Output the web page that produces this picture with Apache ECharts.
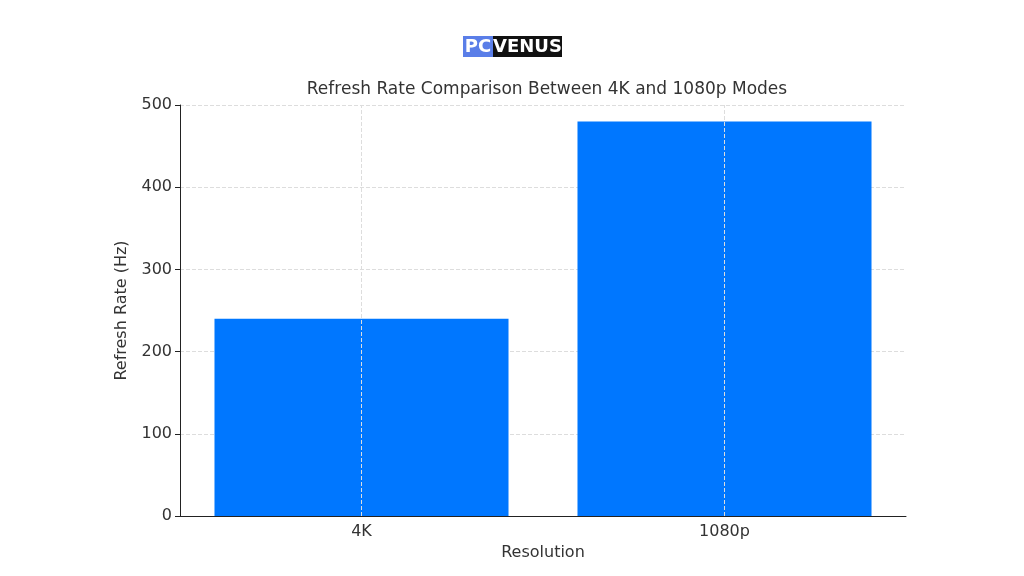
<!DOCTYPE html><html><head><meta charset="utf-8"><script src="https://cdn.jsdelivr.net/npm/echarts@6/dist/echarts.min.js"></script></head><body style="margin:0;background:#fff"><div id="c" style="width:1024px;height:576px"></div><script>
const categories=['4K','1080p'];
const values=[240,480];
const yTicks=[0,100,200,300,400,500];
const ch=echarts.init(document.getElementById('c'));
const F='DejaVu Sans';
ch.setOption({
animation:false,
title:{text:'Refresh Rate Comparison Between 4K and 1080p Modes',left:542,top:76,textAlign:'center',textStyle:{fontFamily:F,fontSize:17,fontWeight:'normal',color:'#333'}},
graphic:[
{type:'rect',shape:{x:463,y:36,width:30,height:21},style:{fill:'#5a7ee8'}},
{type:'rect',shape:{x:493,y:36,width:69,height:21},style:{fill:'#111'}},
{type:'text',x:478,y:47,style:{text:'PC',fill:'#fff',font:'bold 18px DejaVu Sans',textAlign:'center',textVerticalAlign:'middle'}},
{type:'text',x:527.5,y:47,style:{text:'VENUS',fill:'#fff',font:'bold 18px DejaVu Sans',textAlign:'center',textVerticalAlign:'middle'}}
],
grid:{left:180,right:118,top:105,bottom:60},
xAxis:{type:'category',data:categories,name:'Resolution',nameLocation:'middle',nameGap:28,nameTextStyle:{fontFamily:F,fontSize:16,color:'#333'},
axisLine:{lineStyle:{color:'#222'}},axisTick:{alignWithLabel:true,lineStyle:{color:'#222'}},axisLabel:{fontFamily:F,fontSize:16,color:'#333'},
splitLine:{show:false}},
yAxis:{type:'value',min:0,max:500,interval:100,name:'Refresh Rate (Hz)',nameLocation:'middle',nameGap:50,nameTextStyle:{fontFamily:F,fontSize:16,color:'#333'},
axisLine:{show:true,lineStyle:{color:'#222'}},axisTick:{show:true,lineStyle:{color:'#222'}},axisLabel:{fontFamily:F,fontSize:16,color:'#333',formatter:v=>yTicks.includes(v)?String(v):''},
splitLine:{lineStyle:{type:'dashed',color:'#ddd'}}},
series:[{type:'bar',data:values,barWidth:'81%',itemStyle:{color:'#0077ff'},
markLine:{silent:true,symbol:'none',label:{show:false},lineStyle:{type:'dashed',color:'#ddd',width:1},data:categories.map(c=>({xAxis:c}))}}]
});
</script></body></html>
